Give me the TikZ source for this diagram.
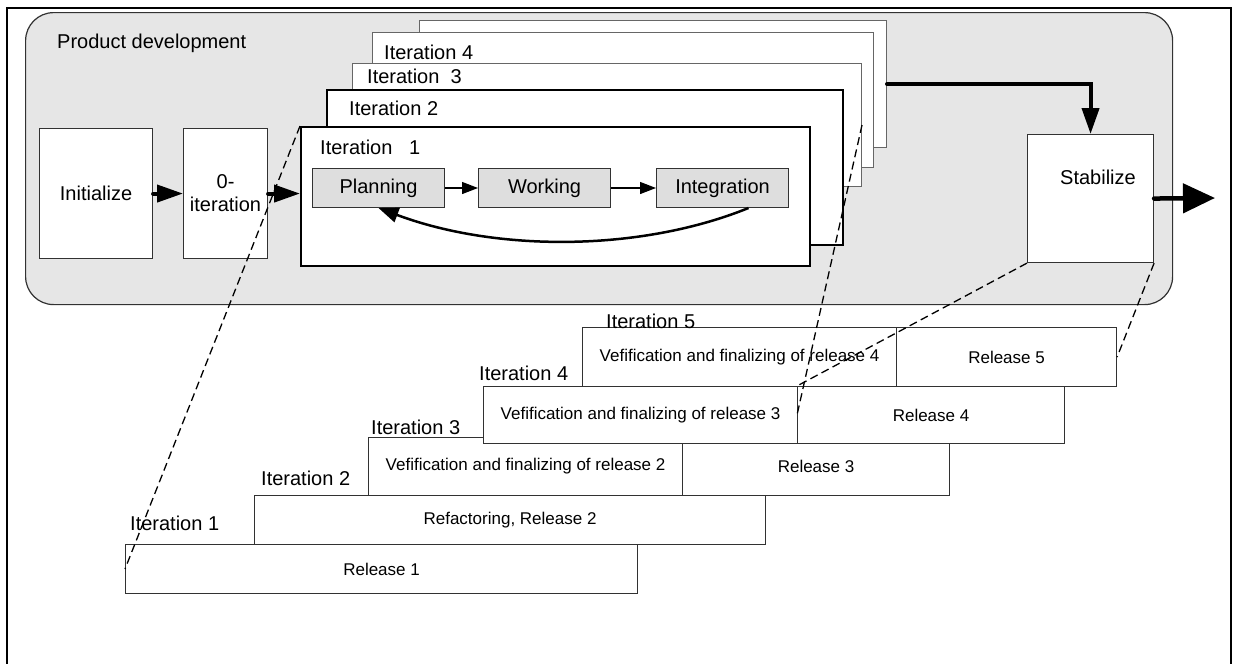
\documentclass[tikz,border=0pt]{standalone}
\usepackage{fontspec}
\setmainfont{Liberation Sans}
\usetikzlibrary{arrows.meta,positioning,calc}
\definecolor{PDarea}{RGB}{230,230,230}
\definecolor{PDtask}{RGB}{222,222,222}
\definecolor{PDline}{RGB}{50,50,50}
\newcommand{\topfont}{\fontsize{20}{23}\selectfont}
\newcommand{\relfont}{\fontsize{17}{20}\selectfont}
\tikzset{
  devarea/.style={rounded corners=28pt,draw=PDline,line width=1.2pt,fill=PDarea,
                  anchor=north west,inner sep=0pt},
  phase/.style={draw=PDline,line width=1.1pt,fill=white,anchor=north west,
                inner sep=0pt,align=center,font=\topfont},
  iterframe/.style={draw=PDline,line width=1pt,fill=white,anchor=north west,inner sep=0pt},
  task/.style={draw=PDline,line width=1pt,fill=PDtask,anchor=north west,inner sep=0pt,
               minimum width=132,minimum height=39,font=\topfont},
  rel/.style={draw=PDline,line width=1.1pt,fill=white,anchor=north west,inner sep=0pt,
              font=\relfont},
  lbl/.style={anchor=west,inner sep=0pt,font=\topfont},
  fat/.style={-{Triangle[length=26pt,width=17pt]},line width=4pt,line cap=round},
  fatout/.style={-{Triangle[length=32pt,width=29pt]},line width=4.5pt,line cap=round},
  fl/.style={-{Triangle[length=16pt,width=12pt]},line width=1.3pt},
  loopback/.style={-{Triangle[length=20pt,width=15pt]},line width=2.5pt},
  zoomline/.style={dash pattern=on 8pt off 4.5pt,line width=1.3pt}
}
\begin{document}
\begin{tikzpicture}[x=1pt,y=-1pt]
  \useasboundingbox (0,0) rectangle (1237,664);
  % page frame, open at the bottom
  \draw[line width=2pt] (7,664) -- (7,8) -- (1231,8) -- (1231,664);

  % product development
  \node[devarea,minimum width=1147,minimum height=292] (dev) at (25,12) {};
  \node[lbl] (devlbl) at (57,43) {Product development};
  \node[phase,minimum width=113,minimum height=130] (init) at (39,128) {Initialize};
  \node[phase,minimum width=84,minimum height=130] (zero) at (183,128) {0-\\iteration};

  % stacked iterations, back to front
  \node[iterframe,draw=gray!80!black,minimum width=467,minimum height=127] (f5) at (419,20) {};
  \node[iterframe,draw=gray!80!black,minimum width=501,minimum height=135] (f4) at (372,32) {};
  \node[lbl] (f4lbl) at (384,52) {Iteration 4};
  \node[iterframe,draw=gray!80!black,minimum width=509,minimum height=123] (f3) at (352,63) {};
  \node[lbl] (f3lbl) at (367,76) {Iteration\ \ 3};
  \node[iterframe,draw=black,line width=1.5pt,minimum width=516,minimum height=155] (f2) at (326,89) {};
  \node[lbl] (f2lbl) at (349,108) {Iteration 2};
  \node[iterframe,draw=black,line width=2pt,minimum width=509,minimum height=139] (f1) at (300,126) {};
  \node[lbl] (f1lbl) at (320,147) {Iteration\ \ \ 1};
  \node[task] (plan) at (312,168) {Planning};
  \node[task] (work) at (478,168) {Working};
  \node[task] (intg) at (656,168) {Integration};

  \node[phase,minimum width=126,minimum height=128] (stab) at (1027,134) {};
  \node[lbl,anchor=center] (stablbl) at (1098,177) {Stabilize};
  \coordinate (exit) at (1215,198);

  \draw[fat] (init.east) -- (zero.west);
  \draw[fat] (zero.east) -- (zero.east -| f1.west);
  \draw[fl] (plan) -- (work);
  \draw[fl] (work) -- (intg);
  \draw[loopback] ([xshift=26]intg.south) .. controls (640,252) and (496,252) .. (plan.south);
  \draw[fat] (f5.east) -| (stab.north);
  \draw[fatout] (stab.east) -- (exit);

  % release staircase
  \node[rel,minimum width=512,minimum height=49] (rel1) at (125,544) {Release 1};
  \node[lbl] (r1lbl) at (130,523) {Iteration 1};
  \node[rel,minimum width=511,minimum height=49] (rel2) at (254,495) {Refactoring, Release 2};
  \node[lbl] (r2lbl) at (261,478) {Iteration 2};
  \node[rel,minimum width=314,minimum height=58] (ver2) at (368,437) {Vefification and finalizing of release 2};
  \node[rel,minimum width=267,minimum height=58] (rel3) at (682,437) {Release 3};
  \node[lbl] (r3lbl) at (371,427) {Iteration 3};
  \node[rel,minimum width=314,minimum height=57] (ver3) at (483,386) {Vefification and finalizing of release 3};
  \node[rel,minimum width=267,minimum height=57] (rel4) at (797,386) {Release 4};
  \node[lbl] (r4lbl) at (479,373) {Iteration 4};
  \node[rel,minimum width=314,minimum height=59] (ver4) at (582,327) {Vefification and finalizing of release 4};
  \node[rel,minimum width=220,minimum height=59] (rel5) at (896,327) {Release 5};
  \node[lbl] (r5lbl) at (606,321) {Iteration 5};

  % zoom lines
  \draw[zoomline] (f1.north west) -- (rel1.west);
  \draw[zoomline] (f3.east) -- (rel4.west);
  \draw[zoomline] (stab.south west) -- (rel4.north west);
  \draw[zoomline] (stab.south east) -- (rel5.east);
\end{tikzpicture}
\end{document}
